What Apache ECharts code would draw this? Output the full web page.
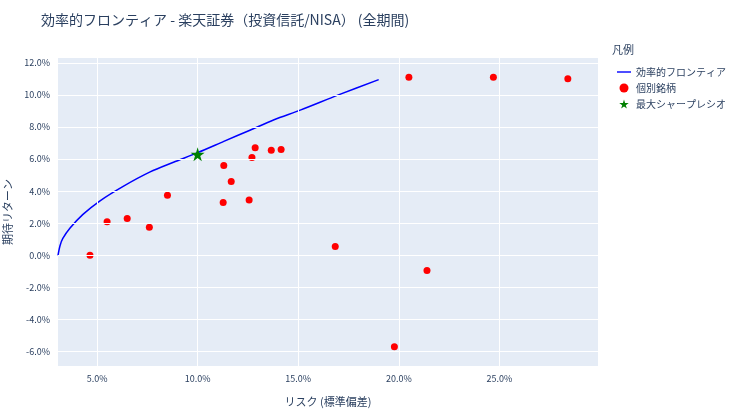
<!DOCTYPE html>
<html><head><meta charset="utf-8">
<script src="https://cdn.jsdelivr.net/npm/echarts@6/dist/echarts.min.js"></script>
<style>body{margin:0}#c{width:730px;height:410px}</style></head>
<body><div id="c"></div>
<script>
const frontier = [[3.06,0],[3.16,0.6],[3.3,1.05],[3.66,1.7],[4.3,2.55],[5.15,3.4],[6.3,4.3],[7.64,5.2],[8.8,5.8],[10.0,6.4],[11.3,7.1],[12.6,7.8],[13.8,8.45],[15.1,9.05],[17.0,10.0],[19.0,10.95]];
const stocks = [[4.65,0.0],[5.5,2.1],[6.5,2.3],[7.6,1.75],[8.5,3.75],[11.27,3.3],[11.3,5.6],[11.67,4.6],[12.56,3.45],[12.7,6.1],[12.86,6.7],[13.66,6.55],[14.15,6.6],[16.84,0.55],[19.78,-5.7],[20.5,11.1],[21.4,-0.95],[24.7,11.1],[28.4,11.0]];
const best = [[10.0,6.3]];
const xTicks = [5,10,15,20,25];
const yTicks = [-6,-4,-2,0,2,4,6,8,10,12];
const star = 'path://M50,0L61,35L98,35L68,57L79,91L50,70L21,91L32,57L2,35L39,35Z';
const font = 'Noto Sans CJK JP, sans-serif';
const c = echarts.init(document.getElementById('c'));
c.setOption({
  textStyle:{fontFamily:font},
  title:{text:'効率的フロンティア - 楽天証券（投資信託/NISA） (全期間)',left:36,top:8,textStyle:{fontSize:14,fontWeight:'normal',color:'#2a3f5f',fontFamily:font}},
  legend:{orient:'vertical',left:612,top:62,itemGap:6,textStyle:{fontSize:10,color:'#2a3f5f'},
    data:[{name:'効率的フロンティア',icon:'path://M0,0L30,0L30,3L0,3Z'},{name:'個別銘柄',icon:'circle'},{name:'最大シャープレシオ',icon:star}],itemWidth:14,itemHeight:9},
  graphic:[{type:'text',left:612,top:44,style:{text:'凡例',fontSize:11,fill:'#2a3f5f',fontFamily:font}}],
  grid:{left:58,top:58,width:540,height:308,outerBoundsMode:'none',containLabel:false,show:true,backgroundColor:'#E5ECF6',borderWidth:0},
  xAxis:{type:'value',min:3.06,max:29.9,name:'リスク (標準偏差)',nameLocation:'middle',nameGap:30,nameTextStyle:{color:'#2a3f5f',fontSize:11},
    axisLine:{show:false},axisTick:{show:false},splitLine:{show:false},
    axisLabel:{fontSize:9,color:'#2a3f5f',formatter:v=>v.toFixed(1)+'%',customValues:xTicks}},
  yAxis:{type:'value',min:-6.9,max:12.3,name:'期待リターン',nameLocation:'middle',nameGap:40,nameTextStyle:{color:'#2a3f5f',fontSize:11},
    axisLine:{show:false},axisTick:{show:false},splitLine:{show:false},
    axisLabel:{fontSize:9,color:'#2a3f5f',formatter:v=>v.toFixed(1)+'%',customValues:yTicks}},
  series:[
    {type:'line',data:[],silent:true,z:0,markLine:{silent:true,symbol:'none',label:{show:false},animation:false,
      lineStyle:{color:'#fff',type:'solid',width:1},
      data:xTicks.map(v=>({xAxis:v})).concat(yTicks.map(v=>({yAxis:v})))}},
    {name:'効率的フロンティア',type:'line',data:frontier,smooth:0.3,showSymbol:false,lineStyle:{color:'#0000ff',width:1.5},itemStyle:{color:'#0000ff'}},
    {name:'個別銘柄',type:'scatter',data:stocks,symbolSize:7,itemStyle:{color:'#ff0000',opacity:1}},
    {name:'最大シャープレシオ',type:'scatter',data:best,symbol:star,symbolSize:14,itemStyle:{color:'#008000',opacity:1},z:5}
  ]
});
</script></body></html>
